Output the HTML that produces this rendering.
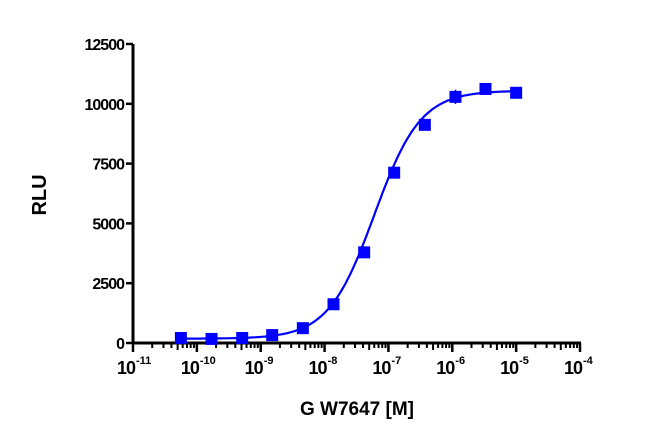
<!DOCTYPE html>
<html><head><meta charset="utf-8"><style>
body{margin:0;background:#fff}
svg text{font-family:"Liberation Sans",Arial,sans-serif;font-weight:bold;fill:#000}
</style></head><body>
<svg width="650" height="440" viewBox="0 0 650 440">
<g id="axes"></g>
<g id="marks"></g>
<text x="357" y="415" font-size="19" text-anchor="middle">G W7647 [M]</text>
<text x="0" y="0" font-size="20" text-anchor="middle" transform="translate(46,195) rotate(-90)">RLU</text>
</svg>
<script>
const logConc = [-10.25,-9.77,-9.29,-8.82,-8.34,-7.86,-7.38,-6.91,-6.43,-5.95,-5.48,-5.0];
const rlu = [210,170,210,330,620,1620,3790,7120,9120,10290,10620,10460];
const errs = [60,50,50,60,60,80,120,150,150,300,150,100];
const fitBottom = 180, fitTop = 10550, fitLogEC50 = -7.22, fitHill = 1.2;
const yTicks = [0,2500,5000,7500,10000,12500];
const xDecades = [-11,-10,-9,-8,-7,-6,-5,-4];

const NS="http://www.w3.org/2000/svg";
const X0=133,X1=580,Y0=343,Y1=44;
const xs=v=>X0+(v-(-11))*(X1-X0)/7;
const ys=v=>Y0-(v/12500)*(Y0-Y1);
function mk(tag,attrs,parent){const e=document.createElementNS(NS,tag);for(const k in attrs)e.setAttribute(k,attrs[k]);parent.appendChild(e);return e;}
const ax=document.getElementById('axes'), mg=document.getElementById('marks');

const ya=mk('line',{x1:X0,y1:Y1,x2:X0,y2:Y0+1,stroke:'#000','stroke-width':3},ax);


const xa=mk('line',{x1:X0-1,y1:Y0,x2:X1+1,y2:Y0,stroke:'#000','stroke-width':3},ax);



yTicks.forEach(t=>{
  mk('line',{x1:X0-7,y1:ys(t),x2:X0,y2:ys(t),stroke:'#000','stroke-width':2.5},ax);
  const tx=mk('text',{x:X0-9,y:ys(t)+6,'font-size':16,'text-anchor':'end','letter-spacing':'-1'},ax);
  tx.textContent=t;
  
  
});
xDecades.forEach((d,i)=>{
  mk('line',{x1:xs(d),y1:Y0,x2:xs(d),y2:Y0+9,stroke:'#000','stroke-width':2.5},ax);
  if(i<xDecades.length-1){for(let m=2;m<10;m++){const p=xs(d+Math.log10(m));mk('line',{x1:p,y1:Y0,x2:p,y2:Y0+(m==5?7:5),stroke:'#000','stroke-width':2},ax);}}
  const tx=mk('text',{x:xs(d)+2,y:Y0+31,'font-size':18,'text-anchor':'end','letter-spacing':'-1'},ax);
  tx.textContent='10';
  
  
  const sp=mk('text',{x:xs(d)+3,y:Y0+21,'font-size':11,'text-anchor':'start'},ax);
  sp.textContent=String(d);
  
  
});

let dpath='';
const lo=logConc[0], hi=logConc[logConc.length-1];
for(let i=0;i<=200;i++){const l=lo+(hi-lo)*i/200;const v=fitBottom+(fitTop-fitBottom)/(1+Math.pow(10,(fitLogEC50-l)*fitHill));dpath+=(i?'L':'M')+xs(l).toFixed(1)+','+ys(v).toFixed(1);}
const cp=mk('path',{d:dpath,fill:'none',stroke:'#0000ff','stroke-width':2.2},mg);



logConc.forEach((l,i)=>{
  const cx=xs(l), cy=ys(rlu[i]);
  const eb=mk('line',{x1:cx,y1:ys(rlu[i]+errs[i]),x2:cx,y2:ys(rlu[i]-errs[i]),stroke:'#0000ff','stroke-width':1.5},mg);
  
  
  const r=mk('rect',{x:cx-6,y:cy-6,width:12,height:12,fill:'#0000ff'},mg);
  
  
});
</script>
</body></html>
